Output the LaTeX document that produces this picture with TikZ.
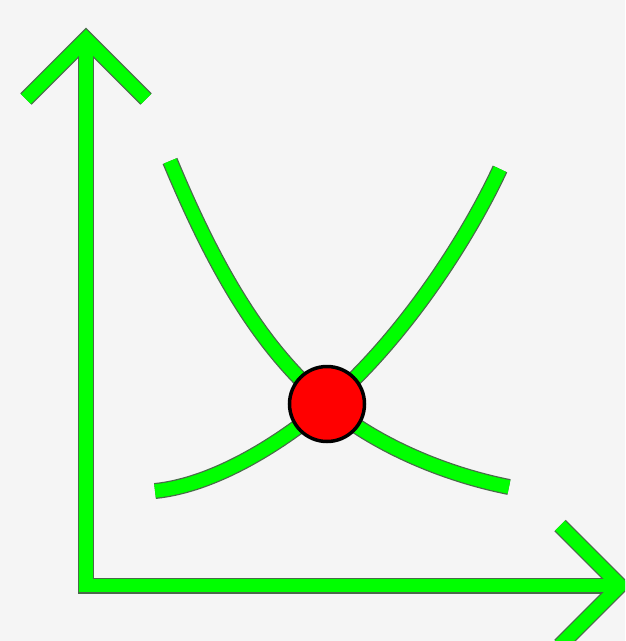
\documentclass[tikz,border=0pt]{standalone}
\definecolor{bg}{HTML}{F5F5F5}
\definecolor{lime}{HTML}{00FF00}
\definecolor{rim}{HTML}{4A6A4A}
\begin{document}
\begin{tikzpicture}[x=1pt,y=-1pt,
  axisrim/.style={draw=rim,line width=16pt,line cap=butt,line join=miter},
  axisfill/.style={draw=lime,line width=13.5pt,line cap=butt,line join=miter},
  curverim/.style={draw=rim,line width=16pt,line cap=butt},
  curvefill/.style={draw=lime,line width=13.5pt,line cap=butt},
  dot/.style={circle,fill=red,draw=black,line width=3.5pt,minimum size=75pt,inner sep=0pt}]
\useasboundingbox (0,0) rectangle (625,641);
\clip (0,0) rectangle (625,641);
\fill[bg] (0,0) rectangle (625,641);
\coordinate (yl) at (26,99);
\coordinate (ytop) at (86,39);
\coordinate (yr) at (146,99);
\coordinate (corner) at (86,585.5);
\coordinate (xtip) at (620,585.5);
\coordinate (xu) at (560,525.5);
\coordinate (xd) at (560,645.5);
\coordinate (ya) at (86,48);
\coordinate (xa) at (611,585.5);
\coordinate (a0) at (170,161);
\coordinate (c) at (327,404);
\coordinate (a1) at (509,487);
\coordinate (b0) at (155,491);
\coordinate (b1) at (500,169);
\newcommand{\curveA}{(a0) .. controls (220,281) and (266,352.2) .. (c) .. controls (372.7,442.9) and (440.4,473.3) .. (a1)}
\newcommand{\curveB}{(b0) .. controls (214.7,485) and (281.3,442.9) .. (c) .. controls (395.6,345.7) and (461.9,250.5) .. (b1)}
% outlines
\draw[axisrim] (yl) -- (ytop) -- (yr);
\draw[axisrim] (ya) -- (corner) -- (xa);
\draw[axisrim] (xu) -- (xtip) -- (xd);
\draw[curverim] \curveA;
\draw[curverim] \curveB;
% fills
\draw[axisfill] (yl) -- (ytop) -- (yr);
\draw[axisfill] (ya) -- (corner) -- (xa);
\draw[axisfill] (xu) -- (xtip) -- (xd);
\draw[curvefill] \curveA;
\draw[curvefill] \curveB;
\node[dot] (eq) at (c) {};
\end{tikzpicture}
\end{document}
